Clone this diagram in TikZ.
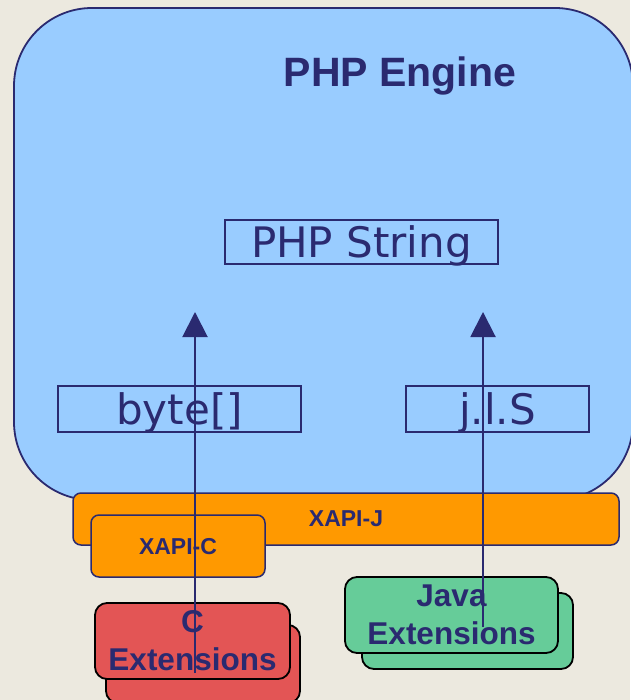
\documentclass[tikz,border=0pt]{standalone}
\usepackage{fontspec}
\setmainfont{Liberation Sans}
\newfontfamily\labelfont{DejaVu Sans}
\usepackage{xcolor}
\usetikzlibrary{arrows.meta}

\definecolor{navy}{RGB}{42,42,112}
\definecolor{engineblue}{RGB}{153,204,255}
\definecolor{xapiorange}{RGB}{255,153,0}
\definecolor{cred}{RGB}{227,85,85}
\definecolor{jgreen}{RGB}{102,204,153}
\definecolor{marble}{RGB}{236,233,223}

\begin{document}
\begin{tikzpicture}[x=1pt,y=-1pt,
    layerbox/.style={draw=navy, line width=1.5pt, rounded corners=8pt, fill=xapiorange,
        text=navy, inner sep=0pt, text depth=0pt, font=\bfseries\fontsize{23}{26}\selectfont},
    extbox/.style={draw=black, line width=1.8pt, rounded corners=12pt, inner sep=0pt,
        text=navy, align=center, font=\bfseries\fontsize{31.5}{38}\selectfont},
    strbox/.style={draw=navy, line width=2pt, inner sep=0pt, text=navy, text depth=0pt,
        font=\labelfont\fontsize{42}{46}\selectfont},
    conv/.style={draw=navy, line width=2pt, -{Triangle[width=25pt,length=25pt]}}]

    \useasboundingbox (0,0) rectangle (630,700);
    \fill[marble] (0,0) rectangle (630,700);

    % =====================
    % Engine
    % =====================
    \node[draw=navy, line width=1.8pt, fill=engineblue, rounded corners=78pt,
        minimum width=619pt, minimum height=492pt] (engine) at (323.5,254) {};
    \node[text=navy, font=\bfseries\fontsize{41}{45}\selectfont, anchor=base]
        (enginelabel) at (400,87) {PHP Engine};

    \node[strbox, minimum width=273pt, minimum height=44pt] (phpstr) at (361.5,242) {PHP String};
    \node[strbox, minimum width=243pt, minimum height=46pt] (bytes) at (179.5,409) {byte[]};
    \node[strbox, minimum width=183pt, minimum height=46pt] (jls) at (497.5,409) {j.l.S};

    % =====================
    % XAPI layers
    % =====================
    \node[layerbox, minimum width=546pt, minimum height=52pt] (xapij) at (346,519) {XAPI-J};
    \node[layerbox, minimum width=174pt, minimum height=62pt] (xapic) at (178,546) {XAPI-C};

    % =====================
    % Extensions
    % =====================
    \node[extbox, fill=cred, minimum width=194pt, minimum height=78pt] (cextback) at (203,664) {};
    \node[extbox, fill=cred, minimum width=195pt, minimum height=76pt] (cext) at (192.5,641) {C\\Extensions};
    \node[extbox, fill=jgreen, minimum width=211pt, minimum height=76pt] (jextback) at (467.5,631) {};
    \node[extbox, fill=jgreen, minimum width=213pt, minimum height=76pt] (jext) at (451.5,615) {Java\\Extensions};

    % Conversions
    \coordinate (cstart) at (195,673);
    \coordinate (ctip) at (195,312);
    \coordinate (jstart) at (483,627);
    \coordinate (jtip) at (483,312);
    \draw[conv] (cstart) -- (ctip);
    \draw[conv] (jstart) -- (jtip);
\end{tikzpicture}
\end{document}
